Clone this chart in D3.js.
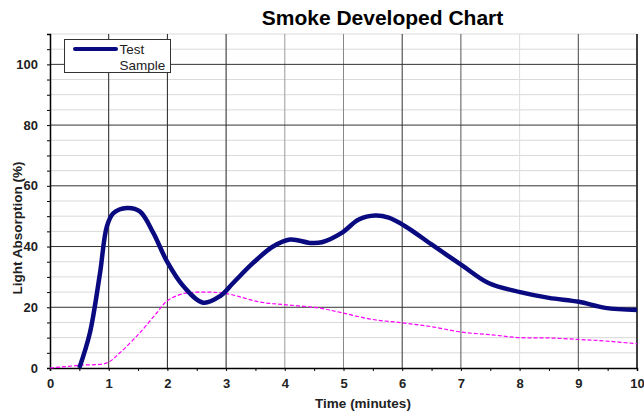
<!DOCTYPE html>
<html>
<head>
<meta charset="utf-8">
<script src="https://cdn.jsdelivr.net/npm/d3@7"></script>
<style>
  body { margin: 0; background: #fff; }
  text { font-family: "Liberation Sans", Arial, sans-serif; }
</style>
</head>
<body>
<script>
// time (minutes) and light absorption (%)
const testTime  = [0.5, 0.68, 0.85, 0.97, 1.08, 1.31, 1.53, 1.76, 1.99, 2.27, 2.61, 2.9, 3.12, 3.46, 3.8, 4.09, 4.43, 4.63, 4.97, 5.26, 5.54, 5.77, 6.05, 6.5, 7.02, 7.47, 8.01, 8.5, 9.01, 9.46, 10];
const testValue = [0, 11.6, 31, 46.7, 51, 52.7, 51.6, 44.5, 35.2, 27, 21.5, 23.7, 28, 34.6, 40, 42.3, 41.2, 41.4, 44.5, 48.9, 50.2, 49.5, 46.7, 40.7, 33.8, 28, 25, 23.1, 21.8, 19.8, 19.1];

const refTime  = [0, 0.51, 0.97, 1.19, 1.53, 1.82, 1.99, 2.27, 2.61, 3.01, 3.58, 4.03, 4.6, 4.97, 5.49, 6, 6.5, 7.02, 7.53, 8.01, 8.5, 9.01, 9.46, 10];
const refValue = [0, 0.9, 1.7, 5, 11.6, 18.2, 22, 24.5, 25, 24.5, 21.7, 20.8, 19.7, 18.2, 16, 14.9, 13.6, 11.8, 10.9, 10, 9.9, 9.4, 8.9, 8];

const xTicks = [0, 1, 2, 3, 4, 5, 6, 7, 8, 9, 10];
const yTicks = [0, 20, 40, 60, 80, 100];

const width = 644, height = 413;
const svg = d3.select('body').append('svg')
  .attr('width', width)
  .attr('height', height);

const x = d3.scaleLinear().domain([0, 10]).range([50, 637]);
const y = d3.scaleLinear().domain([0, 110]).range([368, 34]);

// minor horizontal grid every 5
svg.append('g')
  .selectAll('line')
  .data(d3.range(5, 111, 5).filter(v => v % 20 !== 0))
  .join('line')
    .attr('x1', x(0)).attr('x2', x(10))
    .attr('y1', d => y(d)).attr('y2', d => y(d))
    .attr('stroke', '#d9d9d9')
    .attr('stroke-width', 1);

// vertical grid, shades vary like the original
const vShade = { 1: '#222', 2: '#222', 3: '#222', 4: '#999', 5: '#888', 6: '#333', 7: '#555', 8: '#ddd', 9: '#444', 10: '#000' };
svg.append('g')
  .selectAll('line')
  .data(xTicks.filter(d => d > 0))
  .join('line')
    .attr('x1', d => x(d)).attr('x2', d => x(d))
    .attr('y1', y(0)).attr('y2', y(110))
    .attr('stroke', d => vShade[d])
    .attr('stroke-width', d => d === 10 ? 1.5 : 1);

// major horizontal grid
svg.append('g')
  .selectAll('line')
  .data(yTicks.filter(d => d > 0))
  .join('line')
    .attr('x1', x(0)).attr('x2', x(10))
    .attr('y1', d => y(d)).attr('y2', d => y(d))
    .attr('stroke', '#333')
    .attr('stroke-width', 1);

// axes
const xAxis = svg.append('g')
  .attr('transform', `translate(0,${y(0)})`)
  .call(d3.axisBottom(x).tickValues(d3.range(0, 10.01, 0.5)).tickSize(3).tickFormat(d => Number.isInteger(d) ? d : ''));
xAxis.select('.domain').attr('stroke', '#000').attr('stroke-width', 1.5);
xAxis.selectAll('text')
  .attr('dy', '1.1em')
  .attr('fill', '#222')
  .style('font-size', '13px')
  .style('font-weight', 'bold');

const yAxis = svg.append('g')
  .attr('transform', `translate(${x(0)},0)`)
  .call(d3.axisLeft(y).tickValues(d3.range(0, 111, 5)).tickSize(3).tickFormat(d => yTicks.includes(d) ? d : ''));
yAxis.select('.domain').attr('stroke', '#000').attr('stroke-width', 1.5);
yAxis.selectAll('text')
  .attr('x', -12)
  .attr('fill', '#222')
  .style('font-size', '13px')
  .style('font-weight', 'bold');

// series
const refLine = d3.line()
  .x((d, i) => x(refTime[i]))
  .y(d => y(d))
  .curve(d3.curveCatmullRom);
svg.append('path')
  .attr('d', refLine(refValue))
  .attr('fill', 'none')
  .attr('stroke', '#ff00ff')
  .attr('stroke-width', 1.2)
  .attr('stroke-dasharray', '4,2');

const testLine = d3.line()
  .x((d, i) => x(testTime[i]))
  .y(d => y(d))
  .curve(d3.curveCatmullRom);
svg.append('path')
  .attr('d', testLine(testValue))
  .attr('fill', 'none')
  .attr('stroke', '#0a0a80')
  .attr('stroke-width', 4.5)
  .attr('stroke-linejoin', 'round');

// title + axis labels
svg.append('text')
  .attr('x', 382.5).attr('y', 25)
  .attr('text-anchor', 'middle')
  .style('font-size', '21px')
  .style('font-weight', 'bold')
  .text('Smoke Developed Chart');

svg.append('text')
  .attr('x', 363).attr('y', 408)
  .attr('text-anchor', 'middle')
  .style('font-size', '13.5px')
  .style('font-weight', 'bold')
  .attr('fill', '#222')
  .text('Time (minutes)');

svg.append('text')
  .attr('transform', 'translate(22,228) rotate(-90)')
  .attr('text-anchor', 'middle')
  .style('font-size', '13.5px')
  .style('font-weight', 'bold')
  .attr('fill', '#222')
  .text('Light Absorption (%)');

// legend
const legend = svg.append('g');
legend.append('rect')
  .attr('x', 64.5).attr('y', 39.5)
  .attr('width', 106).attr('height', 33)
  .attr('fill', '#fff')
  .attr('stroke', '#333');
legend.append('line')
  .attr('x1', 75).attr('x2', 116)
  .attr('y1', 49).attr('y2', 49)
  .attr('stroke', '#0a0a80')
  .attr('stroke-width', 4)
  .attr('stroke-linecap', 'round');
legend.append('text')
  .attr('x', 119.5).attr('y', 54)
  .style('font-size', '13.5px')
  .attr('fill', '#222')
  .text('Test');
legend.append('text')
  .attr('x', 119.5).attr('y', 70)
  .style('font-size', '13.5px')
  .attr('fill', '#222')
  .text('Sample');
</script>
</body>
</html>
